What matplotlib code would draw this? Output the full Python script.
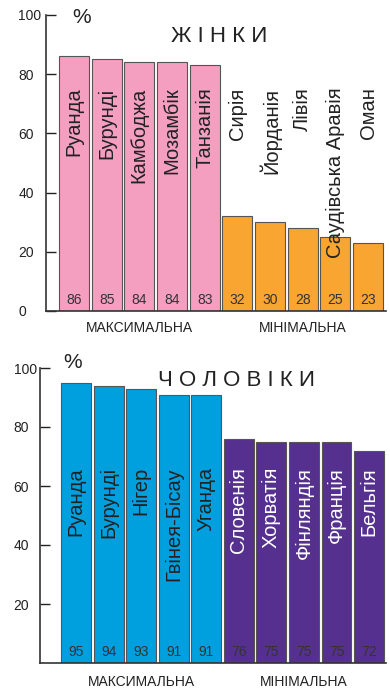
import matplotlib
matplotlib.use("Agg")
import matplotlib.pyplot as plt

plt.rcParams['font.family'] = ['Liberation Sans', 'DejaVu Sans']

# Women: countries with the highest and lowest values
women_max_countries = ["Руанда", "Бурунді", "Камбоджа", "Мозамбік", "Танзанія"]
women_max_values = [86, 85, 84, 84, 83]
women_min_countries = ["Сирія", "Йорданія", "Лівія", "Саудівська Аравія", "Оман"]
women_min_values = [32, 30, 28, 25, 23]

# Men: countries with the highest and lowest values
men_max_countries = ["Руанда", "Бурунді", "Нігер", "Гвінея-Бісау", "Уганда"]
men_max_values = [95, 94, 93, 91, 91]
men_min_countries = ["Словенія", "Хорватія", "Фінляндія", "Франція", "Бельгія"]
men_min_values = [76, 75, 75, 75, 72]

group_labels = ["МАКСИМАЛЬНА", "МІНІМАЛЬНА"]
yticks_women = [0, 20, 40, 60, 80, 100]
yticks_men = [20, 40, 60, 80, 100]

PINK = "#f49fc0"
ORANGE = "#f8a532"
BLUE = "#00a0de"
PURPLE = "#55308f"
EDGE = "#555555"
TXT = "#222222"

fig = plt.figure(figsize=(3.9, 6.92), dpi=100)


def panel(ax, max_c, max_v, min_c, min_v, colors, name_colors, name_top,
          yticks, title, title_xy, pct_xy, tick_pad, group_off):
    names = max_c + min_c
    vals = max_v + min_v
    xs = list(range(len(vals)))
    cols = [colors[0]] * len(max_v) + [colors[1]] * len(min_v)
    ax.bar(xs, vals, width=0.92, color=cols, edgecolor=EDGE, linewidth=0.8, zorder=2)

    ncols = [name_colors[0]] * len(max_c) + [name_colors[1]] * len(min_c)
    for x, n, v, c in zip(xs, names, vals, ncols):
        ax.text(x, name_top, n, rotation=90, ha="center", va="top",
                fontsize=14.5, color=c, zorder=3)
        ax.text(x, 3.6, str(v), ha="center", va="center", fontsize=10,
                color="#333333", zorder=3)

    # group captions under each half of the bars
    for lbl, grp in zip(group_labels, [xs[:len(max_v)], xs[len(max_v):]]):
        cx = sum(grp) / len(grp)
        ax.annotate(lbl, xy=(cx, 0), xycoords=("data", "axes fraction"),
                    xytext=(0, group_off), textcoords="offset points",
                    ha="center", va="center", fontsize=10, color=TXT)

    ax.set_ylim(0, 100)
    ax.set_yticks(yticks)
    ax.set_yticklabels([str(t) for t in yticks], ha="left")
    ax.tick_params(axis="y", direction="in", length=7, width=1.0,
                   pad=tick_pad, labelsize=10, colors=TXT)
    ax.set_xticks([])
    for s in ["top", "right"]:
        ax.spines[s].set_visible(False)
    for s in ["left", "bottom"]:
        ax.spines[s].set_linewidth(1.2)
        ax.spines[s].set_color("#333333")
    ax.set_facecolor("none")

    ax.text(title_xy[0], title_xy[1], title, ha="center", va="center",
            fontsize=16, color=TXT)
    ax.text(pct_xy[0], pct_xy[1], "%", ha="center", va="center",
            fontsize=15, color=TXT)


ax1 = fig.add_axes([46 / 390, 1 - 311 / 692, 340 / 390, 296 / 692])
ax1.set_xlim(-0.857, 9.55)
panel(ax1, women_max_countries, women_max_values, women_min_countries,
      women_min_values, (PINK, ORANGE), (TXT, TXT), 75.5, yticks_women,
      "Ж І Н К И", (4.44, 92.6), (0.24, 99.2), 20, -12.5)

ax2 = fig.add_axes([40 / 390, 1 - 663 / 692, 346 / 390, 295 / 692])
ax2.set_xlim(-1.106, 9.52)
panel(ax2, men_max_countries, men_max_values, men_min_countries,
      men_min_values, (BLUE, PURPLE), (TXT, "white"), 66.4, yticks_men,
      "Ч О Л О В І К И", (4.94, 95.9), (-0.12, 101.7), 19, -14)

fig.savefig("out.png", dpi=100)
